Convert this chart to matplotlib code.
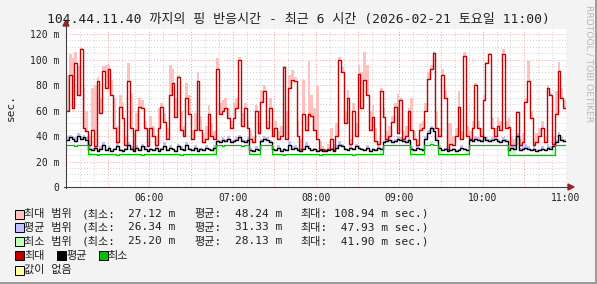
import numpy as np
import matplotlib.pyplot as plt
from matplotlib.patches import Rectangle, Polygon
from matplotlib.lines import Line2D

W, H = 597, 284
MONO = ['DejaVu Sans Mono', 'Noto Sans CJK KR']

title = "104.44.11.40 까지의 핑 반응시간 - 최근 6 시간 (2026-02-21 토요일 11:00)"
step_min = 2  # minutes per sample, starting 05:00
hour_ticks = [60, 120, 180, 240, 300, 360]
hour_labels = ["06:00", "07:00", "08:00", "09:00", "10:00", "11:00"]
y_ticks = [0, 20, 40, 60, 80, 100, 120]
y_labels = ["0", "20 m", "40 m", "60 m", "80 m", "100 m", "120 m"]

# max (red line) and top of the pink max-range band, ms
max_vals = [
    60, 88, 62, 97, 72, 108, 46, 44, 33, 45,
    32, 83, 58, 91, 78, 93, 72, 46, 35, 63,
    54, 33, 83, 46, 30, 45, 63, 62, 46, 32,
    46, 40, 33, 46, 63, 51, 38, 72, 82, 55,
    86, 45, 40, 70, 57, 38, 45, 83, 45, 35,
    38, 57, 40, 38, 93, 57, 60, 62, 54, 46,
    54, 62, 100, 48, 62, 46, 38, 35, 60, 42,
    67, 75, 46, 62, 40, 46, 38, 40, 94, 38,
    78, 84, 83, 40, 30, 57, 45, 57, 56, 45,
    38, 30, 30, 29, 30, 38, 29, 40, 100, 90,
    50, 70, 34, 60, 40, 89, 62, 84, 72, 45,
    55, 36, 34, 75, 55, 38, 40, 51, 63, 42,
    68, 38, 40, 60, 45, 38, 33, 45, 46, 60,
    85, 93, 105, 46, 40, 88, 70, 30, 34, 33,
    40, 63, 38, 103, 40, 38, 46, 80, 46, 40,
    68, 97, 104, 46, 40, 48, 45, 104, 46, 47,
    33, 33, 59, 33, 35, 67, 83, 54, 33, 35,
    40, 46, 35, 78, 72, 34, 57, 91, 70, 62,
]
max_top = [
    88, 104, 101, 106, 95, 109, 78, 60, 40, 78,
    80, 86, 70, 95, 96, 96, 84, 70, 48, 72,
    66, 40, 97, 74, 42, 58, 70, 68, 52, 38,
    56, 48, 40, 62, 66, 58, 46, 96, 93, 70,
    88, 60, 48, 82, 72, 45, 58, 90, 56, 42,
    48, 64, 50, 44, 101, 66, 68, 70, 62, 52,
    66, 70, 102, 58, 66, 52, 44, 40, 64, 50,
    76, 80, 52, 70, 46, 52, 44, 48, 95, 60,
    88, 92, 86, 52, 38, 84, 56, 99, 72, 62,
    79, 36, 32, 30, 34, 46, 34, 50, 102, 94,
    60, 76, 38, 66, 50, 96, 90, 106, 96, 60,
    64, 46, 36, 78, 62, 44, 48, 56, 66, 73,
    70, 44, 48, 62, 70, 44, 38, 50, 52, 66,
    90, 96, 107, 60, 46, 93, 76, 50, 50, 40,
    46, 75, 44, 106, 48, 44, 52, 82, 52, 46,
    72, 98, 105, 54, 46, 54, 52, 108, 52, 54,
    40, 38, 60, 38, 42, 70, 99, 60, 38, 42,
    46, 52, 40, 80, 74, 40, 75, 98, 78, 68,
]
# average (black line) and top of the blue avg-range band
avg_vals = [
    37, 39, 38, 36, 40, 38, 39, 37,
    30, 29, 31, 28, 30, 33, 29, 31, 28, 30, 32, 29, 28, 30, 33, 30, 28, 31,
    29, 32, 30, 28, 30, 29, 31, 28, 30, 32, 29, 31, 30, 28,
    32, 30, 29, 33, 30, 29, 31, 28, 30, 29, 31, 30, 29, 31,
    36, 35, 37, 36, 38, 35, 36, 37, 39, 36, 35, 37,
    29, 28, 30, 29,
    36, 38, 37, 35,
    30, 29, 31, 28, 30, 29, 33, 30, 31, 29, 28, 30, 32, 31, 29, 30, 28, 29, 28, 28,
    29, 30, 28, 31, 33, 32, 30, 29, 31, 30, 32, 31, 30, 29, 31, 28, 30, 29, 31, 30,
    35, 36, 37, 35, 36, 38, 37, 36, 35, 37,
    30, 29, 31, 30, 29,
    38, 42, 46, 44, 37,
    31, 29, 30, 28, 29, 30, 28, 29, 31, 30, 29,
    37, 36, 38, 37, 36, 39, 37, 36, 37, 38, 36, 35, 37, 36,
    29, 31, 30, 40, 29, 30, 31, 30, 29, 30, 28, 29, 30, 29, 31, 30, 32,
    35, 41, 37, 36,
]
avg_top = [
    40, 41, 40, 39, 42, 40, 41, 39,
    33, 31, 34, 29, 32, 35, 30, 33, 29, 31, 35, 30, 29, 31, 35, 32, 29, 33,
    30, 34, 32, 29, 31, 30, 33, 29, 31, 35, 30, 33, 31, 29,
    34, 32, 30, 35, 31, 30, 33, 29, 31, 30, 33, 31, 30, 33,
    38, 37, 39, 38, 40, 37, 38, 39, 41, 38, 37, 39,
    31, 29, 32, 30,
    38, 40, 39, 37,
    32, 30, 33, 29, 31, 30, 36, 32, 33, 30, 29, 31, 35, 33, 30, 31, 29, 30, 29, 29,
    30, 31, 29, 33, 36, 34, 31, 30, 33, 31, 34, 33, 31, 30, 33, 29, 31, 30, 33, 31,
    37, 38, 39, 37, 38, 40, 39, 38, 37, 39,
    32, 30, 33, 31, 30,
    40, 45, 48, 46, 39,
    33, 30, 31, 29, 30, 31, 29, 30, 33, 31, 30,
    39, 38, 40, 39, 38, 41, 39, 38, 39, 40, 38, 37, 39, 38,
    31, 34, 32, 42, 31, 32, 34, 32, 30, 32, 29, 30, 32, 30, 34, 32, 35,
    37, 43, 39, 38,
]
# minimum (green line) and top of the light green min-range band
min_vals = [
    33, 33, 33, 32, 33, 33, 33, 33, 26, 26,
    26, 25, 26, 26, 26, 26, 26, 26, 25, 26,
    26, 26, 26, 26, 26, 26, 26, 25, 26, 26,
    26, 26, 26, 26, 26, 26, 26, 26, 26, 26,
    26, 25, 26, 26, 26, 26, 26, 26, 26, 26,
    26, 26, 26, 26, 33, 33, 32, 33, 33, 33,
    33, 33, 33, 32, 33, 33, 26, 26, 26, 26,
    33, 33, 33, 33, 26, 26, 26, 26, 25, 26,
    26, 26, 26, 26, 26, 26, 26, 26, 26, 26,
    26, 25, 26, 26, 26, 26, 26, 26, 26, 26,
    26, 26, 26, 25, 26, 26, 26, 26, 26, 26,
    26, 26, 26, 26, 33, 33, 33, 33, 33, 33,
    33, 33, 33, 33, 26, 26, 26, 26, 26, 33,
    33, 34, 33, 33, 26, 26, 26, 26, 26, 26,
    26, 26, 26, 26, 26, 33, 33, 33, 33, 33,
    33, 33, 33, 33, 33, 33, 33, 33, 33, 25,
    25, 25, 25, 25, 25, 25, 25, 25, 25, 25,
    25, 25, 25, 25, 25, 25, 33, 33, 33, 33,
]
min_top = [
    33, 33, 33, 33, 33, 33, 33, 33, 30, 27,
    26, 26, 26, 26, 26, 26, 26, 26, 26, 26,
    26, 26, 26, 26, 26, 26, 26, 26, 26, 26,
    26, 26, 26, 26, 26, 26, 26, 26, 26, 26,
    26, 26, 26, 26, 26, 26, 26, 26, 26, 26,
    26, 26, 26, 30, 33, 33, 33, 33, 33, 33,
    33, 33, 33, 33, 33, 33, 30, 26, 26, 26,
    33, 33, 33, 33, 30, 26, 26, 26, 26, 26,
    26, 26, 26, 26, 26, 26, 26, 26, 26, 26,
    26, 26, 26, 26, 26, 26, 26, 26, 26, 26,
    26, 26, 26, 26, 26, 26, 26, 26, 26, 26,
    26, 26, 26, 30, 33, 33, 33, 33, 33, 33,
    33, 33, 33, 33, 30, 26, 26, 26, 26, 33,
    33, 36, 33, 33, 30, 26, 26, 26, 26, 26,
    26, 26, 26, 26, 30, 33, 33, 33, 33, 33,
    33, 33, 33, 33, 33, 33, 33, 33, 33, 32,
    30, 29, 26, 26, 26, 26, 26, 26, 26, 26,
    26, 26, 26, 26, 26, 30, 33, 33, 33, 33,
]

range_labels = ["최대 범위", "평균 범위", "최소 범위"]
range_colors = ["#FFC0C0", "#C0C0FF", "#C0FFC0"]
stat_min = [27.12, 26.34, 25.20]
stat_avg = [48.24, 31.33, 28.13]
stat_max = [108.94, 47.93, 41.90]

n = len(max_vals)
for arr in (max_top, avg_vals, avg_top, min_vals, min_top):
    assert len(arr) == n, len(arr)

t = np.arange(n + 1) * step_min


def ext(a):
    return np.append(a, a[-1])


fig = plt.figure(figsize=(W / 100, H / 100), dpi=100, facecolor="#F3F3F3")
ax = fig.add_axes([66 / W, (H - 187) / H, 500 / W, 158 / H])
ax.set_facecolor("white")
ax.set_xlim(0, 360)
ax.set_ylim(0, 124)
for s in ax.spines.values():
    s.set_visible(False)

# grid
for m in range(10, 360, 10):
    major = m % 30 == 0
    ax.axvline(m, color="#F0A0A0" if major else "#CFCFCF", lw=0.7,
               ls=(0, (1, 2)), zorder=0)
for v in range(5, 125, 5):
    major = v % 20 == 0
    ax.axhline(v, color="#F0A0A0" if major else "#CFCFCF", lw=0.7,
               ls=(0, (1, 2)), zorder=0)

ax.fill_between(t, ext(max_vals), ext(max_top), step="post", color="#FFC0C0", lw=0, zorder=1)
ax.fill_between(t, ext(avg_vals), ext(avg_top), step="post", color="#C0C0FF", lw=0, zorder=1)
ax.fill_between(t, ext(min_vals), ext(min_top), step="post", color="#C0FFC0", lw=0, zorder=1)
ax.step(t, ext(max_vals), where="post", color="#C40000", lw=1.0, zorder=2)
ax.step(t, ext(avg_vals), where="post", color="black", lw=1.0, zorder=3)
ax.step(t, ext(min_vals), where="post", color="#00C000", lw=0.9, zorder=3)

ax.set_xticks(hour_ticks, labels=hour_labels)
ax.set_yticks(y_ticks, labels=y_labels)
ax.tick_params(length=0, labelsize=7, colors="#202020")
ax.tick_params(axis="x", pad=4)
ax.tick_params(axis="y", pad=5)
for lab in ax.get_xticklabels() + ax.get_yticklabels():
    lab.set_family(MONO)


def fx(x):
    return x / W


def fy(y):
    return 1 - y / H


# axis lines with arrow heads
fig.add_artist(Line2D([fx(66), fx(66)], [fy(188), fy(24)], color="#404040", lw=0.8))
fig.add_artist(Line2D([fx(64), fx(570)], [fy(187), fy(187)], color="#404040", lw=0.8))
fig.add_artist(Polygon([(fx(63), fy(26)), (fx(69), fy(26)), (fx(66), fy(20))],
                       closed=True, color="#A02020", transform=fig.transFigure))
fig.add_artist(Polygon([(fx(568), fy(184)), (fx(568), fy(190)), (fx(574), fy(187))],
                       closed=True, color="#A02020", transform=fig.transFigure))

# border shading
fig.add_artist(Line2D([fx(596), fx(596)], [0, 1], color="#9A9A9A", lw=1.4))
fig.add_artist(Line2D([0, 1], [fy(283), fy(283)], color="#9A9A9A", lw=1.4))

fig.text(fx(298), fy(19), title, ha="center", va="center", fontsize=9.4,
         family=MONO, color="#202020")
fig.text(fx(11), fy(107), "sec.", rotation=90, ha="center", va="center",
         fontsize=8, family=MONO, color="#202020")
fig.text(fx(589), fy(5), "RRDTOOL / TOBI OETIKER", rotation=270, ha="center",
         va="top", fontsize=6.6, family="DejaVu Sans", color="#B8B8B8")


def ftext(x, y, s):
    fig.text(fx(x), fy(y), s, ha="left", va="center", fontsize=8,
             family=MONO, color="#202020")


def swatch(x, y, color):
    fig.add_artist(Rectangle((fx(x), fy(y + 4.5)), 9 / W, 9 / H, facecolor=color,
                             edgecolor="black", lw=0.7, transform=fig.transFigure))


rows_y = [214, 227.5, 241.5]
for i in range(3):
    y = rows_y[i]
    swatch(15, y, range_colors[i])
    ftext(24, y, range_labels[i])
    ftext(82, y, "(최소:")
    ftext(128, y, f"{stat_min[i]:5.2f} m")
    ftext(194, y, "평균:")
    ftext(235, y, f"{stat_avg[i]:5.2f} m")
    ftext(300, y, "최대:")
    ftext(334, y, f"{stat_max[i]:6.2f} m sec.)")

swatch(15, 255.5, "#C00000")
ftext(24, 255.5, "최대")
swatch(57, 255.5, "black")
ftext(66, 255.5, "평균")
swatch(99, 255.5, "#00C000")
ftext(107, 255.5, "최소")
swatch(15, 270, "#FFFFA0")
ftext(24, 270, "값이 없음")

fig.savefig("out.png", dpi=100, facecolor=fig.get_facecolor())
